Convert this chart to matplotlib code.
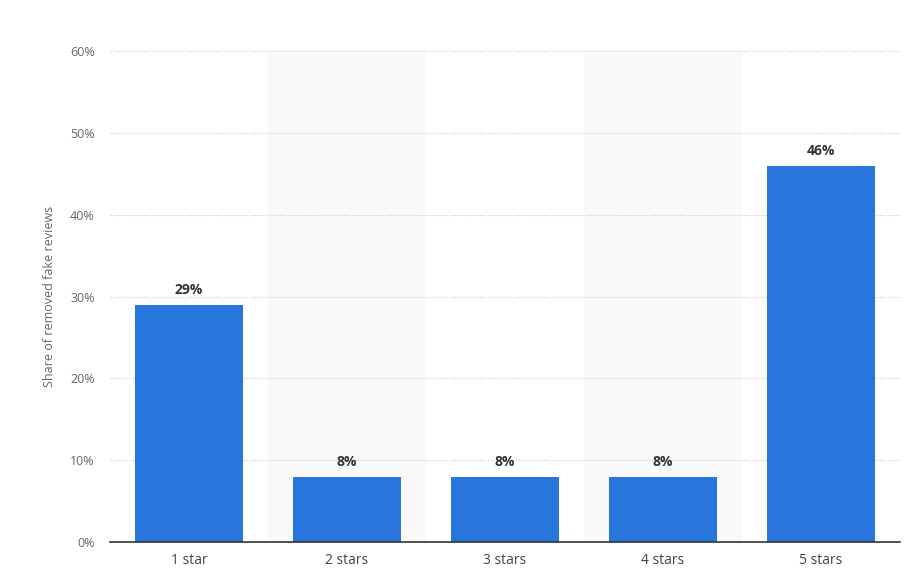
import matplotlib
matplotlib.use("Agg")
import matplotlib.pyplot as plt

categories = ["1 star", "2 stars", "3 stars", "4 stars", "5 stars"]
values = [29, 8, 8, 8, 46]
yticks = [0, 10, 20, 30, 40, 50, 60]

plt.rcParams['font.family'] = ['Open Sans', 'DejaVu Sans']
fig = plt.figure(figsize=(9.12, 5.86), dpi=100)
ax = fig.add_axes([110/912, 1-542/586, 790/912, (542-51)/586])

x = list(range(len(categories)))
for i in x:
    if i % 2 == 1:
        ax.axvspan(i-0.5, i+0.5, color='#f9f9f9', zorder=0, lw=0)

bars = ax.bar(x, values, width=0.68, color='#2875dd', zorder=3)
for xi, v in zip(x, values):
    ax.text(xi, v + 0.9, f"{v}%", ha='center', va='bottom', fontsize=10,
            fontweight='bold', color='#333333', zorder=4)

ax.set_xlim(-0.5, len(categories)-0.5)
ax.set_ylim(0, 60)
ax.set_yticks(yticks)
ax.set_yticklabels([f"{t}%" for t in yticks])
ax.set_xticks(x)
ax.set_xticklabels(categories)
ax.yaxis.grid(True, linestyle=(0, (1, 1.5)), color='#c8c8c8', linewidth=0.8, zorder=1)
ax.set_axisbelow(True)
for s in ['top', 'right', 'left']:
    ax.spines[s].set_visible(False)
ax.spines['bottom'].set_color('#333333')
ax.spines['bottom'].set_linewidth(1.2)
ax.spines['bottom'].set_zorder(5)
ax.tick_params(axis='y', length=0, pad=11, labelsize=9, labelcolor='#666666')
ax.tick_params(axis='x', length=0, pad=8, labelsize=10, labelcolor='#444444')
ax.set_ylabel("Share of removed fake reviews", fontsize=9, color='#666666')
ax.yaxis.set_label_coords(-(110-56)/790, 0.5)

fig.savefig("out.png", dpi=100, facecolor='white')
